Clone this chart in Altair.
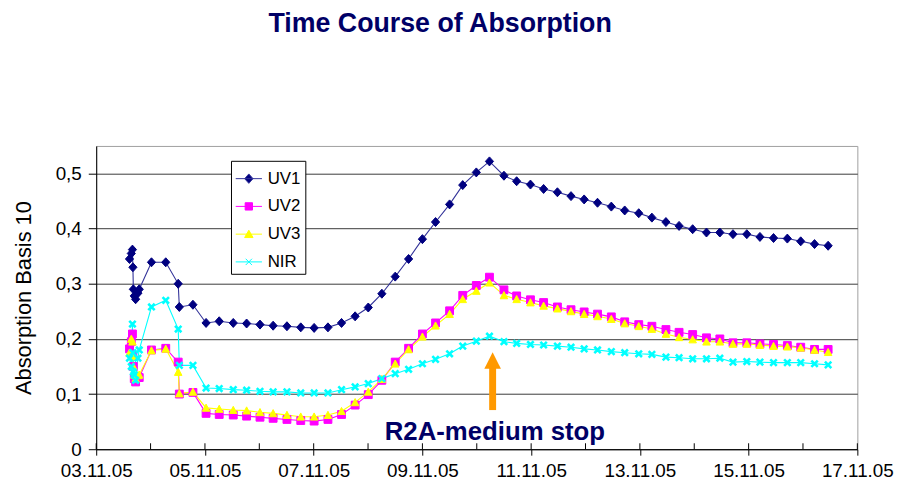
import altair as alt
import pandas as pd

series_names = ["UV1", "UV2", "UV3", "NIR"]

# hours after 03.11.05 00:00
hours = [14.7, 15.5, 16.0, 16.2, 16.4, 16.8, 17.4, 18.4, 19.0, 24.4, 30.7, 36.2, 36.7, 42.7,
         48.5, 54.3, 60.5, 66.4, 72.3, 78.1, 84.2, 90.3, 96.2, 102.3,
         108.3, 114.3, 120.1, 126.1, 132.0, 137.9, 144.0, 149.8, 156.0, 161.8,
         167.8, 173.6, 180.0, 185.6, 191.7, 197.5, 203.6, 209.6, 215.4, 221.3,
         227.4, 233.3, 239.5, 245.3, 251.5, 257.3, 263.3, 269.4, 275.3, 281.1,
         287.2, 293.0, 299.0, 305.1, 311.0, 317.1, 323.1]

uv1 = [0.345, 0.355, 0.362, 0.330, 0.290, 0.278, 0.272, 0.283, 0.290, 0.339, 0.339, 0.300, 0.258, 0.262,
       0.229, 0.232, 0.229, 0.228, 0.226, 0.224, 0.223, 0.221, 0.220, 0.221,
       0.229, 0.241, 0.257, 0.282, 0.313, 0.345, 0.381, 0.412, 0.444, 0.479,
       0.502, 0.522, 0.496, 0.486, 0.480, 0.472, 0.466, 0.459, 0.453, 0.447,
       0.440, 0.433, 0.428, 0.420, 0.412, 0.405, 0.399, 0.393, 0.393, 0.390,
       0.390, 0.385, 0.383, 0.382, 0.377, 0.372, 0.369]

uv2 = [0.182, 0.195, 0.209, 0.170, 0.150, 0.128, 0.122, 0.130, 0.130, 0.180, 0.183, 0.158, 0.100, 0.103,
       0.065, 0.063, 0.062, 0.060, 0.058, 0.056, 0.054, 0.052, 0.051, 0.054,
       0.063, 0.080, 0.099, 0.125, 0.158, 0.183, 0.209, 0.229, 0.251, 0.279,
       0.297, 0.312, 0.289, 0.278, 0.271, 0.266, 0.258, 0.253, 0.249, 0.245,
       0.240, 0.231, 0.226, 0.223, 0.217, 0.212, 0.208, 0.202, 0.200, 0.193,
       0.193, 0.191, 0.190, 0.188, 0.185, 0.181, 0.181]

uv3 = [0.175, 0.200, 0.195, 0.168, 0.150, 0.135, 0.128, 0.134, 0.135, 0.179, 0.182, 0.140, 0.101, 0.104,
       0.075, 0.073, 0.071, 0.070, 0.067, 0.065, 0.062, 0.059, 0.059, 0.062,
       0.069, 0.085, 0.104, 0.127, 0.155, 0.181, 0.204, 0.224, 0.245, 0.272,
       0.287, 0.302, 0.279, 0.272, 0.266, 0.260, 0.255, 0.250, 0.245, 0.241,
       0.236, 0.228, 0.223, 0.218, 0.209, 0.203, 0.199, 0.195, 0.195, 0.191,
       0.191, 0.189, 0.187, 0.186, 0.184, 0.180, 0.176]

nir = [0.165, 0.150, 0.227, 0.175, 0.140, 0.135, 0.125, 0.165, 0.180, 0.258, 0.270, 0.218, 0.152, 0.152,
       0.111, 0.110, 0.108, 0.107, 0.105, 0.104, 0.104, 0.102, 0.102, 0.102,
       0.108, 0.113, 0.119, 0.128, 0.137, 0.145, 0.155, 0.163, 0.173, 0.187,
       0.196, 0.205, 0.195, 0.192, 0.190, 0.189, 0.187, 0.185, 0.182, 0.180,
       0.177, 0.175, 0.173, 0.172, 0.167, 0.166, 0.164, 0.164, 0.165, 0.158,
       0.159, 0.158, 0.157, 0.157, 0.157, 0.155, 0.153]

tick_days = list(range(3, 18))
y_ticks = [0, 0.1, 0.2, 0.3, 0.4, 0.5]

arrow_hours = [175.0]
arrow_bottom = [0.071]
arrow_top = [0.148]
arrow_head = [0.161]
note_hours = [176.0]
note_value = [0.016]
note_text = "R2A-medium stop"

marker_colors = ["#000080", "#FF00FF", "#FFFF00", "#00FFFF"]
line_colors = ["#333399", "#FF00FF", "#FFFF00", "#00FFFF"]
marker_paths = ["M0,-1.1L1,0L0,1.1L-1,0Z",
                "M-1,-1L1,-1L1,1L-1,1Z",
                "M0,-1L1,0.9L-1,0.9Z",
                "M-1,-1L1,1M-1,1L1,-1"]
legend_paths = ["M-1,0L1,0M0,-0.36L0.32,0L0,0.36L-0.32,0Z",
                "M-1,0L1,0M-0.28,-0.28L0.28,-0.28L0.28,0.28L-0.28,0.28Z",
                "M-1,0L1,0M0,-0.3L0.32,0.26L-0.32,0.26Z",
                "M-1,0L1,0M-0.24,-0.24L0.24,0.24M-0.24,0.24L0.24,-0.24"]

base = pd.Timestamp("2005-11-03 00:00")
rows = []
for name, vals in zip(series_names, [uv1, uv2, uv3, nir]):
    for h, v in zip(hours, vals):
        rows.append({"time": base + pd.Timedelta(hours=h), "series": name, "value": v})
df = pd.DataFrame(rows)

days_df = pd.DataFrame({"time": [base + pd.Timedelta(days=d - 3) for d in tick_days]})
arrow_df = pd.DataFrame({"time": [base + pd.Timedelta(hours=h) for h in arrow_hours],
                         "value": arrow_bottom, "value2": arrow_top, "head": arrow_head})
note_df = pd.DataFrame({"time": [base + pd.Timedelta(hours=h) for h in note_hours],
                        "value": note_value, "label": [note_text]})

FONT = "Liberation Sans"
W, H = 768, 306

x_enc = alt.X(
    "time:T",
    title=None,
    scale=alt.Scale(domain=[alt.DateTime(year=2005, month=11, date=3),
                            alt.DateTime(year=2005, month=11, date=17)], nice=False),
    axis=alt.Axis(
        values=[alt.DateTime(year=2005, month=11, date=d) for d in tick_days],
        labelExpr="date(datum.value) % 2 == 1 ? timeFormat(datum.value, '%d.%m.%y') : ''",
        tickSize={"condition": {"test": "date(datum.value) % 2 == 1", "value": 6}, "value": 0},
        labelFlush=False, labelOverlap=False, grid=False,
        labelFontSize=19, labelFont=FONT, labelColor="black", labelPadding=7,
        domainColor="black", tickColor="black",
    ),
)
y_enc = alt.Y(
    "value:Q",
    scale=alt.Scale(domain=[0, 0.55], nice=False),
    axis=alt.Axis(
        values=y_ticks,
        labelExpr="datum.value == 0 ? '0' : replace(format(datum.value, '.1f'), '.', ',')",
        title="Absorption Basis 10", titleFont=FONT, titleFontSize=22, titleFontWeight="normal",
        titleColor="black", titleX=-66, titleY=H / 2, titleAngle=-90, titleAlign="center",
        titleBaseline="alphabetic",
        grid=True, gridColor="#3a3a3a", gridWidth=1,
        tickSize=8, tickColor="black", domainColor="black",
        labelFontSize=19, labelFont=FONT, labelColor="black", labelPadding=7,
    ),
)

inner_ticks = alt.Chart(days_df).mark_rule(color="black", strokeWidth=1).encode(
    x=x_enc, y=alt.value(H), y2=alt.value(H - 6)
)

lines = alt.Chart(df).mark_line(strokeWidth=1.1).encode(
    x=x_enc, y=y_enc,
    color=alt.Color("series:N", scale=alt.Scale(domain=series_names, range=line_colors), legend=None),
    detail="series:N",
)

points = alt.Chart(df).transform_filter("datum.series != 'NIR'").mark_point(
    filled=True, opacity=1, strokeWidth=1).encode(
    x=x_enc, y=y_enc,
    fill=alt.Fill("series:N", scale=alt.Scale(domain=series_names, range=marker_colors), legend=None),
    stroke=alt.Stroke("series:N", scale=alt.Scale(domain=series_names, range=marker_colors), legend=None),
    shape=alt.Shape("series:N", scale=alt.Scale(domain=series_names, range=marker_paths), legend=None),
    size=alt.Size("series:N", scale=alt.Scale(domain=series_names, range=[68, 52, 62, 46]), legend=None),
)

nir_points = alt.Chart(df).transform_filter("datum.series == 'NIR'").mark_point(
    shape=marker_paths[3], filled=False, opacity=1, strokeWidth=2.6, size=42, color=marker_colors[3]
).encode(x=x_enc, y=y_enc)

shaft = alt.Chart(arrow_df).mark_rule(color="#FF9900", strokeWidth=7).encode(
    x=x_enc, y=y_enc, y2="value2:Q"
)
head = alt.Chart(arrow_df).mark_point(shape="M0,-1L1,1L-1,1Z", size=280, filled=True,
                                      color="#FF9900", opacity=1).encode(
    x=x_enc, y=alt.Y("head:Q", scale=alt.Scale(domain=[0, 0.55], nice=False))
)
note = alt.Chart(note_df).mark_text(font=FONT, fontSize=26, fontWeight="bold", color="#000066",
                                    align="center", baseline="alphabetic").encode(
    x=x_enc, y=y_enc, text="label:N"
)

leg = dict(title=None, orient="none", legendX=136, legendY=15, strokeColor="black",
           fillColor="white", padding=4, symbolSize=700, symbolStrokeWidth=1,
           labelFontSize=17, labelFont=FONT, labelColor="black", labelOffset=5,
           labelExpr="datum.label + '  '",
           rowPadding=6, cornerRadius=0)
legend_layer = alt.Chart(df).transform_filter("false").mark_point(filled=True, opacity=1, strokeWidth=1).encode(
    x=x_enc, y=y_enc,
    fill=alt.Fill("series:N", scale=alt.Scale(domain=series_names, range=marker_colors), legend=alt.Legend(**leg)),
    stroke=alt.Stroke("series:N", scale=alt.Scale(domain=series_names, range=line_colors), legend=alt.Legend(**leg)),
    shape=alt.Shape("series:N", scale=alt.Scale(domain=series_names, range=legend_paths), legend=alt.Legend(**leg)),
)

chart = alt.layer(inner_ticks, lines, points, nir_points, shaft, head, note, legend_layer).resolve_scale(
    shape="independent", fill="independent", stroke="independent", size="independent"
).properties(
    width=W, height=H,
    title=alt.TitleParams("Time Course of Absorption", font=FONT, fontSize=27, fontWeight="bold",
                          color="#000066", anchor="middle", dx=-37, offset=88, baseline="alphabetic"),
    autosize=alt.AutoSizeParams(type="none"),
    padding={"left": 89, "top": 137, "right": 39, "bottom": 43},
    background="white",
).configure_view(stroke="#a0a0a0", strokeWidth=1)

chart.save("out.html", embed_options={"renderer": "svg", "actions": False})
